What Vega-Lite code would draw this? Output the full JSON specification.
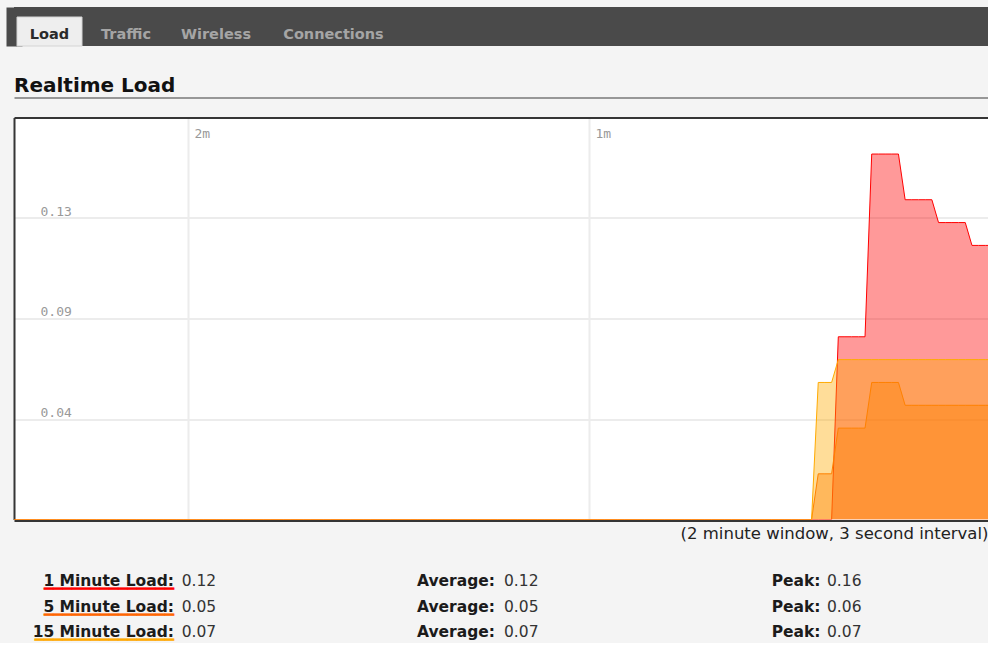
{
  "$schema": "https://vega.github.io/schema/vega-lite/v6.json",
  "background": "#f4f4f4",
  "padding": {"left": 14, "top": 7, "right": 0, "bottom": 0},
  "spacing": 28.5,
  "config": {"view": {"stroke": null}},
  "vconcat": [
    {
      "width": 974,
      "height": 39,
      "view": {"fill": "#4a4a4a", "stroke": null},
      "data": {"values": [
        {"tab": "Load", "i": 0},
        {"tab": "Traffic", "i": 1},
        {"tab": "Wireless", "i": 2},
        {"tab": "Connections", "i": 3}
      ]},
      "layer": [
        {
          "transform": [{"filter": "datum.i == 0"}],
          "mark": {"type": "bar", "width": 65, "color": "#eeeeee", "stroke": "#d4d4d4", "strokeWidth": 1},
          "encoding": {
            "x": {"field": "i", "type": "quantitative", "scale": {"domain": [0, 1, 2, 3], "range": [35.5, 112, 202, 319.5], "nice": false, "zero": false, "padding": 0}, "axis": null},
            "y": {"datum": 0, "type": "quantitative", "scale": {"domain": [0, 39], "nice": false, "zero": false, "padding": 0},
                  "axis": {"orient": "left", "domain": true, "domainColor": "#4a4a4a", "domainWidth": 16, "labels": false, "ticks": false, "tickSize": 0, "grid": false, "title": null}},
            "y2": {"datum": 29}
          }
        },
        {
          "mark": {"type": "text", "font": "DejaVu Sans", "fontSize": 14.5, "fontWeight": "bold", "align": "center", "baseline": "alphabetic"},
          "encoding": {
            "x": {"field": "i", "type": "quantitative", "scale": {"domain": [0, 1, 2, 3], "range": [35.5, 112, 202, 319.5], "nice": false, "zero": false, "padding": 0}, "axis": null},
            "y": {"datum": 7, "type": "quantitative", "axis": {"orient": "left", "domain": true, "domainColor": "#4a4a4a", "domainWidth": 16, "labels": false, "ticks": false, "tickSize": 0, "grid": false, "title": null}},
            "text": {"field": "tab"},
            "color": {"condition": {"test": "datum.i == 0", "value": "#2a2a2a"}, "value": "#a5a5a5"}
          }
        }
      ]
    },
    {
      "width": 974,
      "height": 402,
      "view": {"fill": "#ffffff", "stroke": null},
      "title": {"text": "Realtime Load", "anchor": "start", "frame": "group", "font": "DejaVu Sans", "fontSize": 20, "fontWeight": "bold", "color": "#111111", "baseline": "alphabetic", "offset": -14.5},
      "data": {"values": [
        {"s":-146,"a":0,"b":0,"c":0},{"s":-145,"a":0,"b":0,"c":0},{"s":-144,"a":0,"b":0,"c":0},{"s":-143,"a":0,"b":0,"c":0},{"s":-142,"a":0,"b":0,"c":0},
        {"s":-141,"a":0,"b":0,"c":0},{"s":-140,"a":0,"b":0,"c":0},{"s":-139,"a":0,"b":0,"c":0},{"s":-138,"a":0,"b":0,"c":0},{"s":-137,"a":0,"b":0,"c":0},
        {"s":-136,"a":0,"b":0,"c":0},{"s":-135,"a":0,"b":0,"c":0},{"s":-134,"a":0,"b":0,"c":0},{"s":-133,"a":0,"b":0,"c":0},{"s":-132,"a":0,"b":0,"c":0},
        {"s":-131,"a":0,"b":0,"c":0},{"s":-130,"a":0,"b":0,"c":0},{"s":-129,"a":0,"b":0,"c":0},{"s":-128,"a":0,"b":0,"c":0},{"s":-127,"a":0,"b":0,"c":0},
        {"s":-126,"a":0,"b":0,"c":0},{"s":-125,"a":0,"b":0,"c":0},{"s":-124,"a":0,"b":0,"c":0},{"s":-123,"a":0,"b":0,"c":0},{"s":-122,"a":0,"b":0,"c":0},
        {"s":-121,"a":0,"b":0,"c":0},{"s":-120,"a":0,"b":0,"c":0},{"s":-119,"a":0,"b":0,"c":0},{"s":-118,"a":0,"b":0,"c":0},{"s":-117,"a":0,"b":0,"c":0},
        {"s":-116,"a":0,"b":0,"c":0},{"s":-115,"a":0,"b":0,"c":0},{"s":-114,"a":0,"b":0,"c":0},{"s":-113,"a":0,"b":0,"c":0},{"s":-112,"a":0,"b":0,"c":0},
        {"s":-111,"a":0,"b":0,"c":0},{"s":-110,"a":0,"b":0,"c":0},{"s":-109,"a":0,"b":0,"c":0},{"s":-108,"a":0,"b":0,"c":0},{"s":-107,"a":0,"b":0,"c":0},
        {"s":-106,"a":0,"b":0,"c":0},{"s":-105,"a":0,"b":0,"c":0},{"s":-104,"a":0,"b":0,"c":0},{"s":-103,"a":0,"b":0,"c":0},{"s":-102,"a":0,"b":0,"c":0},
        {"s":-101,"a":0,"b":0,"c":0},{"s":-100,"a":0,"b":0,"c":0},{"s":-99,"a":0,"b":0,"c":0},{"s":-98,"a":0,"b":0,"c":0},{"s":-97,"a":0,"b":0,"c":0},
        {"s":-96,"a":0,"b":0,"c":0},{"s":-95,"a":0,"b":0,"c":0},{"s":-94,"a":0,"b":0,"c":0},{"s":-93,"a":0,"b":0,"c":0},{"s":-92,"a":0,"b":0,"c":0},
        {"s":-91,"a":0,"b":0,"c":0},{"s":-90,"a":0,"b":0,"c":0},{"s":-89,"a":0,"b":0,"c":0},{"s":-88,"a":0,"b":0,"c":0},{"s":-87,"a":0,"b":0,"c":0},
        {"s":-86,"a":0,"b":0,"c":0},{"s":-85,"a":0,"b":0,"c":0},{"s":-84,"a":0,"b":0,"c":0},{"s":-83,"a":0,"b":0,"c":0},{"s":-82,"a":0,"b":0,"c":0},
        {"s":-81,"a":0,"b":0,"c":0},{"s":-80,"a":0,"b":0,"c":0},{"s":-79,"a":0,"b":0,"c":0},{"s":-78,"a":0,"b":0,"c":0},{"s":-77,"a":0,"b":0,"c":0},
        {"s":-76,"a":0,"b":0,"c":0},{"s":-75,"a":0,"b":0,"c":0},{"s":-74,"a":0,"b":0,"c":0},{"s":-73,"a":0,"b":0,"c":0},{"s":-72,"a":0,"b":0,"c":0},
        {"s":-71,"a":0,"b":0,"c":0},{"s":-70,"a":0,"b":0,"c":0},{"s":-69,"a":0,"b":0,"c":0},{"s":-68,"a":0,"b":0,"c":0},{"s":-67,"a":0,"b":0,"c":0},
        {"s":-66,"a":0,"b":0,"c":0},{"s":-65,"a":0,"b":0,"c":0},{"s":-64,"a":0,"b":0,"c":0},{"s":-63,"a":0,"b":0,"c":0},{"s":-62,"a":0,"b":0,"c":0},
        {"s":-61,"a":0,"b":0,"c":0},{"s":-60,"a":0,"b":0,"c":0},{"s":-59,"a":0,"b":0,"c":0},{"s":-58,"a":0,"b":0,"c":0},{"s":-57,"a":0,"b":0,"c":0},
        {"s":-56,"a":0,"b":0,"c":0},{"s":-55,"a":0,"b":0,"c":0},{"s":-54,"a":0,"b":0,"c":0},{"s":-53,"a":0,"b":0,"c":0},{"s":-52,"a":0,"b":0,"c":0},
        {"s":-51,"a":0,"b":0,"c":0},{"s":-50,"a":0,"b":0,"c":0},{"s":-49,"a":0,"b":0,"c":0},{"s":-48,"a":0,"b":0,"c":0},{"s":-47,"a":0,"b":0,"c":0},
        {"s":-46,"a":0,"b":0,"c":0},{"s":-45,"a":0,"b":0,"c":0},{"s":-44,"a":0,"b":0,"c":0},{"s":-43,"a":0,"b":0,"c":0},{"s":-42,"a":0,"b":0,"c":0},
        {"s":-41,"a":0,"b":0,"c":0},{"s":-40,"a":0,"b":0,"c":0},{"s":-39,"a":0,"b":0,"c":0},{"s":-38,"a":0,"b":0,"c":0},{"s":-37,"a":0,"b":0,"c":0},
        {"s":-36,"a":0,"b":0,"c":0},{"s":-35,"a":0,"b":0,"c":0},{"s":-34,"a":0,"b":0,"c":0},{"s":-33,"a":0,"b":0,"c":0},{"s":-32,"a":0,"b":0,"c":0},
        {"s":-31,"a":0,"b":0,"c":0},{"s":-30,"a":0,"b":0,"c":0},{"s":-29,"a":0,"b":0,"c":0},{"s":-28,"a":0,"b":0,"c":0},{"s":-27,"a":0,"b":0,"c":0},
        {"s":-26,"a":0,"b":0,"c":0},
        {"s":-25,"a":0,"b":0.02,"c":0.06},{"s":-24,"a":0,"b":0.02,"c":0.06},{"s":-23,"a":0,"b":0.02,"c":0.06},
        {"s":-22,"a":0.08,"b":0.04,"c":0.07},{"s":-21,"a":0.08,"b":0.04,"c":0.07},{"s":-20,"a":0.08,"b":0.04,"c":0.07},{"s":-19,"a":0.08,"b":0.04,"c":0.07},{"s":-18,"a":0.08,"b":0.04,"c":0.07},
        {"s":-17,"a":0.16,"b":0.06,"c":0.07},{"s":-16,"a":0.16,"b":0.06,"c":0.07},{"s":-15,"a":0.16,"b":0.06,"c":0.07},{"s":-14,"a":0.16,"b":0.06,"c":0.07},{"s":-13,"a":0.16,"b":0.06,"c":0.07},
        {"s":-12,"a":0.14,"b":0.05,"c":0.07},{"s":-11,"a":0.14,"b":0.05,"c":0.07},{"s":-10,"a":0.14,"b":0.05,"c":0.07},{"s":-9,"a":0.14,"b":0.05,"c":0.07},{"s":-8,"a":0.14,"b":0.05,"c":0.07},
        {"s":-7,"a":0.13,"b":0.05,"c":0.07},{"s":-6,"a":0.13,"b":0.05,"c":0.07},{"s":-5,"a":0.13,"b":0.05,"c":0.07},{"s":-4,"a":0.13,"b":0.05,"c":0.07},{"s":-3,"a":0.13,"b":0.05,"c":0.07},
        {"s":-2,"a":0.12,"b":0.05,"c":0.07},{"s":-1,"a":0.12,"b":0.05,"c":0.07},{"s":0,"a":0.12,"b":0.05,"c":0.07},{"s":1,"a":0.12,"b":0.05,"c":0.07}
      ]},
      "layer": [
        {
          "mark": {"type": "area", "color": "#ff0000", "opacity": 0.4, "clip": true},
          "encoding": {
            "x": {"field": "s", "type": "quantitative", "scale": {"domain": [-145.34, 0.4], "nice": false, "zero": false},
                  "axis": {"orient": "top", "values": [-119.3, -59.3], "labelExpr": "datum.value < -100 ? '2m' : '1m'", "grid": true, "gridColor": "#ececec", "gridWidth": 2, "ticks": false, "tickSize": 0, "domain": true, "domainColor": "#353535", "domainWidth": 2, "labelPadding": -10, "labelBaseline": "top", "labelAlign": "left", "labelOffset": 6, "labelFont": "DejaVu Sans Mono", "labelFontSize": 13, "labelColor": "#999999", "labelFlush": false, "labelOverlap": false, "title": null}},
            "y": {"field": "a", "type": "quantitative", "stack": null, "scale": {"domain": [0, 0.176], "nice": false, "zero": false},
                  "axis": {"orient": "left", "values": [0.044, 0.088, 0.132], "format": ".2f", "grid": true, "gridColor": "#ececec", "gridWidth": 2, "ticks": false, "tickSize": 0, "domain": true, "domainColor": "#353535", "domainWidth": 2, "labelPadding": -26, "labelAlign": "left", "labelBaseline": "alphabetic", "labelOffset": -3, "labelFont": "DejaVu Sans Mono", "labelFontSize": 13, "labelColor": "#999999", "labelFlush": false, "labelOverlap": false, "title": null}}
          }
        },
        {
          "mark": {"type": "line", "color": "#ff0000", "strokeWidth": 1, "clip": true},
          "encoding": {
            "x": {"field": "s", "type": "quantitative", "scale": {"domain": [-145.34, 0.4], "nice": false, "zero": false},
                  "axis": {"orient": "bottom", "offset": 1, "labels": false, "ticks": false, "tickSize": 0, "grid": false, "domain": true, "domainColor": "#353535", "domainWidth": 2, "title": "(2 minute window, 3 second interval)", "titleAnchor": "end", "titleAlign": "right", "titleFont": "DejaVu Sans", "titleFontSize": 16.5, "titleFontWeight": "normal", "titleColor": "#222222", "titlePadding": 18, "titleBaseline": "alphabetic"}},
            "y": {"field": "a", "type": "quantitative", "axis": {"orient": "left", "values": [0.044, 0.088, 0.132], "format": ".2f", "grid": true, "gridColor": "#ececec", "gridWidth": 2, "ticks": false, "tickSize": 0, "domain": true, "domainColor": "#353535", "domainWidth": 2, "labelPadding": -26, "labelAlign": "left", "labelBaseline": "alphabetic", "labelOffset": -3, "labelFont": "DejaVu Sans Mono", "labelFontSize": 13, "labelColor": "#999999", "labelFlush": false, "labelOverlap": false, "title": null}}
          }
        },
        {
          "mark": {"type": "area", "color": "#ff6600", "opacity": 0.4, "clip": true},
          "encoding": {
            "x": {"field": "s", "type": "quantitative", "scale": {"domain": [-145.34, 0.4], "nice": false, "zero": false},
                  "axis": {"orient": "top", "offset": 20, "labels": false, "ticks": false, "tickSize": 0, "grid": false, "domain": true, "domainColor": "#3a3a3a", "domainWidth": 1, "title": null}},
            "y": {"field": "b", "type": "quantitative", "stack": null, "axis": {"orient": "left", "values": [0.044, 0.088, 0.132], "format": ".2f", "grid": true, "gridColor": "#ececec", "gridWidth": 2, "ticks": false, "tickSize": 0, "domain": true, "domainColor": "#353535", "domainWidth": 2, "labelPadding": -26, "labelAlign": "left", "labelBaseline": "alphabetic", "labelOffset": -3, "labelFont": "DejaVu Sans Mono", "labelFontSize": 13, "labelColor": "#999999", "labelFlush": false, "labelOverlap": false, "title": null}}
          }
        },
        {
          "mark": {"type": "line", "color": "#ff6600", "strokeWidth": 1, "clip": true},
          "encoding": {
            "x": {"field": "s", "type": "quantitative", "axis": null},
            "y": {"field": "b", "type": "quantitative", "axis": {"orient": "left", "values": [0.044, 0.088, 0.132], "format": ".2f", "grid": true, "gridColor": "#ececec", "gridWidth": 2, "ticks": false, "tickSize": 0, "domain": true, "domainColor": "#353535", "domainWidth": 2, "labelPadding": -26, "labelAlign": "left", "labelBaseline": "alphabetic", "labelOffset": -3, "labelFont": "DejaVu Sans Mono", "labelFontSize": 13, "labelColor": "#999999", "labelFlush": false, "labelOverlap": false, "title": null}}
          }
        },
        {
          "mark": {"type": "area", "color": "#ffaa00", "opacity": 0.4, "clip": true},
          "encoding": {
            "x": {"field": "s", "type": "quantitative", "axis": null},
            "y": {"field": "c", "type": "quantitative", "stack": null, "axis": {"orient": "left", "values": [0.044, 0.088, 0.132], "format": ".2f", "grid": true, "gridColor": "#ececec", "gridWidth": 2, "ticks": false, "tickSize": 0, "domain": true, "domainColor": "#353535", "domainWidth": 2, "labelPadding": -26, "labelAlign": "left", "labelBaseline": "alphabetic", "labelOffset": -3, "labelFont": "DejaVu Sans Mono", "labelFontSize": 13, "labelColor": "#999999", "labelFlush": false, "labelOverlap": false, "title": null}}
          }
        },
        {
          "mark": {"type": "line", "color": "#ffaa00", "strokeWidth": 1, "clip": true},
          "encoding": {
            "x": {"field": "s", "type": "quantitative", "axis": null},
            "y": {"field": "c", "type": "quantitative", "axis": {"orient": "left", "values": [0.044, 0.088, 0.132], "format": ".2f", "grid": true, "gridColor": "#ececec", "gridWidth": 2, "ticks": false, "tickSize": 0, "domain": true, "domainColor": "#353535", "domainWidth": 2, "labelPadding": -26, "labelAlign": "left", "labelBaseline": "alphabetic", "labelOffset": -3, "labelFont": "DejaVu Sans Mono", "labelFontSize": 13, "labelColor": "#999999", "labelFlush": false, "labelOverlap": false, "title": null}}
          }
        }
      ],
      "resolve": {"axis": {"x": "independent", "y": "shared"}}
    },
    {
      "width": 974,
      "height": 72,
      "data": {"values": [
        {"k": "1m", "label": "1 Minute Load:", "u": "______________", "cur": "0.12", "avg": "0.12", "peak": "0.16"},
        {"k": "5m", "label": "5 Minute Load:", "u": "______________", "cur": "0.05", "avg": "0.05", "peak": "0.06"},
        {"k": "15m", "label": "15 Minute Load:", "u": "_______________", "cur": "0.07", "avg": "0.07", "peak": "0.07"}
      ]},
      "encoding": {
        "y": {"field": "k", "type": "nominal", "scale": {"type": "point", "domain": ["1m", "5m", "15m"], "padding": 0.41176, "align": 0.738}, "axis": null}
      },
      "layer": [
        {
          "mark": {"type": "text", "font": "DejaVu Sans Mono", "fontSize": 15.43, "fontWeight": "bold", "align": "right", "baseline": "alphabetic", "strokeWidth": 0.8},
          "encoding": {
            "x": {"datum": 0, "type": "quantitative", "scale": {"domain": [0, 1, 2, 3, 4, 5], "range": [160, 167.7, 403, 490, 757.7, 813], "nice": false, "zero": false}, "axis": null},
            "text": {"field": "u"},
            "color": {"field": "k", "type": "nominal", "scale": {"domain": ["1m", "5m", "15m"], "range": ["#ff0000", "#ff6600", "#ffaa00"]}, "legend": null},
            "stroke": {"field": "k", "type": "nominal", "scale": {"domain": ["1m", "5m", "15m"], "range": ["#ff0000", "#ff6600", "#ffaa00"]}, "legend": null}
          }
        },
        {
          "mark": {"type": "text", "font": "DejaVu Sans", "fontSize": 15.5, "fontWeight": "bold", "align": "right", "baseline": "alphabetic", "color": "#1b1b1b"},
          "encoding": {
            "x": {"datum": 0, "type": "quantitative", "axis": null},
            "text": {"field": "label"}
          }
        },
        {
          "mark": {"type": "text", "font": "DejaVu Sans", "fontSize": 15.5, "align": "left", "baseline": "alphabetic", "color": "#333333"},
          "encoding": {
            "x": {"datum": 1, "type": "quantitative", "axis": null},
            "text": {"field": "cur"}
          }
        },
        {
          "mark": {"type": "text", "font": "DejaVu Sans", "fontSize": 15.5, "fontWeight": "bold", "align": "left", "baseline": "alphabetic", "color": "#1b1b1b"},
          "encoding": {
            "x": {"datum": 2, "type": "quantitative", "axis": null},
            "text": {"value": "Average:"}
          }
        },
        {
          "mark": {"type": "text", "font": "DejaVu Sans", "fontSize": 15.5, "align": "left", "baseline": "alphabetic", "color": "#333333"},
          "encoding": {
            "x": {"datum": 3, "type": "quantitative", "axis": null},
            "text": {"field": "avg"}
          }
        },
        {
          "mark": {"type": "text", "font": "DejaVu Sans", "fontSize": 15.5, "fontWeight": "bold", "align": "left", "baseline": "alphabetic", "color": "#1b1b1b"},
          "encoding": {
            "x": {"datum": 4, "type": "quantitative", "axis": null},
            "text": {"value": "Peak:"}
          }
        },
        {
          "mark": {"type": "text", "font": "DejaVu Sans", "fontSize": 15.5, "align": "left", "baseline": "alphabetic", "color": "#333333"},
          "encoding": {
            "x": {"datum": 5, "type": "quantitative", "axis": null},
            "text": {"field": "peak"}
          }
        }
      ]
    }
  ]
}
